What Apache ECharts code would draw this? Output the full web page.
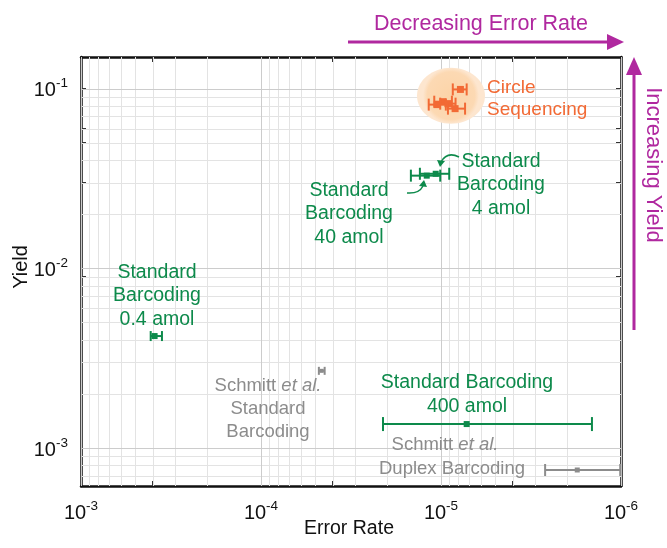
<!DOCTYPE html>
<html>
<head>
<meta charset="utf-8">
<script src="https://cdn.jsdelivr.net/npm/echarts@6/dist/echarts.min.js"></script>
<style>
  html, body { margin: 0; padding: 0; background: #fff; }
  #chart { width: 667px; height: 548px; }
</style>
</head>
<body>
<div id="chart"></div>
<script>
// data: [error rate, yield, error rate (low), error rate (high)]
var circleSequencing = [
  [7.8e-6, 0.099, 7.2e-6, 8.6e-6],
  [1.05e-5, 0.0815, 9.4e-6, 1.17e-5],
  [9.75e-6, 0.0846, 8.7e-6, 1.09e-5],
  [9.15e-6, 0.0825, 8.3e-6, 1.01e-5],
  [8.35e-6, 0.0774, 7.35e-6, 9.15e-6]
];
var barcoding04 = [[3.9e-4, 4.2e-3, 3.55e-4, 4.1e-4]];
var barcoding4 = [[1.07e-5, 0.0336, 9.0e-6, 1.31e-5]];
var barcoding40 = [[1.2e-5, 0.0328, 1.01e-5, 1.47e-5]];
var barcoding400 = [[7.2e-6, 1.36e-3, 1.45e-6, 2.1e-5]];
var schmittStandard = [[4.6e-5, 2.69e-3, 4.43e-5, 4.77e-5]];
var schmittDuplex = [[1.75e-6, 7.55e-4, 1.01e-6, 2.64e-6]];
var circleHighlight = [[8.8e-6, 0.0914]];

var xTicks = [1e-3, 1e-4, 1e-5, 1e-6];
var yTicks = [1e-3, 1e-2, 1e-1];
var xMin = 1e-6, xMax = 1e-3, yMin = 6.15e-4, yMax = 0.15;

// minor tick positions (2..9 x decade)
var xMinor = [], yMinor = [];
[-6, -5, -4].forEach(function (e) {
  for (var k = 2; k <= 9; k++) xMinor.push(k * Math.pow(10, e));
});
[-4, -3, -2, -1].forEach(function (e) {
  for (var k = 2; k <= 9; k++) {
    var v = k * Math.pow(10, e);
    if (v > yMin && v < yMax) yMinor.push(v);
  }
});

var FONT = '"Liberation Sans", Arial, Helvetica, sans-serif';
var GREEN = '#0d8a4b', ORANGE = '#f26a35', GRAY = '#8c8c8c', PURPLE = '#b0289f';

var myChart = echarts.init(document.getElementById('chart'));

var gridSpecs = [];
xMinor.forEach(function (v) { gridSpecs.push({ axis: 'x', v: v, major: false }); });
yMinor.forEach(function (v) { gridSpecs.push({ axis: 'y', v: v, major: false }); });
xTicks.forEach(function (v) { gridSpecs.push({ axis: 'x', v: v, major: true }); });
yTicks.forEach(function (v) { gridSpecs.push({ axis: 'y', v: v, major: true }); });

function errorBars(name, data, color, cap, size, lw) {
  return {
    type: 'custom',
    name: name,
    data: data,
    z: 5,
    encode: { x: 0, y: 1 },
    renderItem: function (params, api) {
      var y = api.value(1);
      var p = api.coord([api.value(0), y]);
      var a = api.coord([api.value(2), y]);
      var b = api.coord([api.value(3), y]);
      var st = { stroke: color, lineWidth: lw };
      return {
        type: 'group',
        children: [
          { type: 'line', shape: { x1: a[0], y1: p[1], x2: b[0], y2: p[1] }, style: st },
          { type: 'line', shape: { x1: a[0], y1: p[1] - cap, x2: a[0], y2: p[1] + cap }, style: st },
          { type: 'line', shape: { x1: b[0], y1: p[1] - cap, x2: b[0], y2: p[1] + cap }, style: st },
          { type: 'rect', shape: { x: p[0] - size / 2, y: p[1] - size / 2, width: size, height: size }, style: { fill: color } }
        ]
      };
    }
  };
}

function supLabel(v) {
  return '{b|10}{s|' + Math.round(Math.log10(v)) + '}';
}
var labelRich = {
  b: { fontSize: 20, fontFamily: FONT, color: '#111', lineHeight: 24, verticalAlign: 'bottom' },
  s: { fontSize: 13.5, fontFamily: FONT, color: '#111', lineHeight: 24, verticalAlign: 'top', padding: [0, 0, 10, 0] }
};

function xAxisCfg(pos) {
  return {
    type: 'log', logBase: 10, min: xMin, max: xMax, inverse: true, position: pos,
    axisLine: { show: true, onZero: false, lineStyle: { color: '#111', width: 2.5 } },
    axisTick: { show: true, inside: true, length: 5, customValues: xTicks.concat(xMinor), lineStyle: { color: '#333' } },
    axisLabel: { show: pos === 'bottom', customValues: xTicks, margin: 13, formatter: supLabel, rich: labelRich },
    splitLine: { show: false }, minorTick: { show: false }
  };
}
function yAxisCfg(pos) {
  return {
    type: 'log', logBase: 10, min: yMin, max: yMax, position: pos,
    axisLine: { show: true, onZero: false, lineStyle: { color: '#111', width: 2.5 } },
    axisTick: { show: true, inside: true, length: 5, customValues: yTicks.concat(yMinor), lineStyle: { color: '#333' } },
    axisLabel: { show: pos === 'left', customValues: yTicks, margin: 13, formatter: supLabel, rich: labelRich },
    splitLine: { show: false }, minorTick: { show: false }
  };
}

// annotations and arrows, drawn above the grid lines
var annotations = [
  // axis names
  { type: 'text', x: 349, y: 529, style: { text: 'Error Rate', font: '19.5px ' + FONT, fill: '#111', align: 'center', verticalAlign: 'middle' } },
  { type: 'text', x: 21, y: 267, rotation: Math.PI / 2, style: { text: 'Yield', font: '20px ' + FONT, fill: '#111', align: 'center', verticalAlign: 'middle' } },
  // direction arrows
  { type: 'text', x: 481, y: 24, style: { text: 'Decreasing Error Rate', font: '21.5px ' + FONT, fill: PURPLE, align: 'center', verticalAlign: 'middle' } },
  { type: 'line', shape: { x1: 348, y1: 42, x2: 610, y2: 42 }, style: { stroke: PURPLE, lineWidth: 3 } },
  { type: 'polygon', shape: { points: [[607, 34], [624, 42], [607, 50]] }, style: { fill: PURPLE } },
  { type: 'line', shape: { x1: 634, y1: 330, x2: 634, y2: 72 }, style: { stroke: PURPLE, lineWidth: 3 } },
  { type: 'polygon', shape: { points: [[626, 75], [634, 57], [642, 75]] }, style: { fill: PURPLE } },
  { type: 'text', x: 653, y: 165, rotation: -Math.PI / 2, style: { text: 'Increasing Yield', font: '22px ' + FONT, fill: PURPLE, align: 'center', verticalAlign: 'middle' } },
  // labels
  { type: 'text', x: 487, y: 99, style: { text: 'Circle\nSequencing', font: '19px ' + FONT, fill: ORANGE, align: 'left', verticalAlign: 'middle', lineHeight: 22 } },
  { type: 'text', x: 501, y: 185, style: { text: 'Standard\nBarcoding\n4 amol', font: '19.5px ' + FONT, fill: GREEN, align: 'center', verticalAlign: 'middle', lineHeight: 23.5 } },
  { type: 'text', x: 349, y: 214, style: { text: 'Standard\nBarcoding\n40 amol', font: '19.5px ' + FONT, fill: GREEN, align: 'center', verticalAlign: 'middle', lineHeight: 23.5 } },
  { type: 'text', x: 157, y: 296, style: { text: 'Standard\nBarcoding\n0.4 amol', font: '19.5px ' + FONT, fill: GREEN, align: 'center', verticalAlign: 'middle', lineHeight: 23.5 } },
  { type: 'text', x: 467, y: 395, style: { text: 'Standard Barcoding\n400 amol', font: '19.5px ' + FONT, fill: GREEN, align: 'center', verticalAlign: 'middle', lineHeight: 24 } },
  {
    type: 'text', x: 268, y: 409,
    style: {
      text: '{n|Schmitt }{i|et al.}\n{n|Standard}\n{n|Barcoding}', align: 'center', verticalAlign: 'middle',
      rich: {
        n: { font: '18.5px ' + FONT, fill: GRAY, lineHeight: 23 },
        i: { font: 'italic 18.5px ' + FONT, fill: GRAY, lineHeight: 23 }
      }
    }
  },
  {
    type: 'text', x: 445, y: 445,
    style: {
      text: '{n|Schmitt }{i|et al.}', align: 'center', verticalAlign: 'middle',
      rich: {
        n: { font: '18.5px ' + FONT, fill: GRAY },
        i: { font: 'italic 18.5px ' + FONT, fill: GRAY }
      }
    }
  },
  { type: 'text', x: 452, y: 469, style: { text: 'Duplex Barcoding', font: '18.5px ' + FONT, fill: GRAY, align: 'center', verticalAlign: 'middle' } },
  // pointer arrows for 4 and 40 amol
  { type: 'bezierCurve', shape: { x1: 459, y1: 157, cpx1: 447, cpy1: 151, x2: 441, y2: 162 }, style: { stroke: GREEN, lineWidth: 1.5, fill: null } },
  { type: 'polygon', shape: { points: [[437, 160], [445, 161], [440, 167]] }, style: { fill: GREEN } },
  { type: 'bezierCurve', shape: { x1: 407, y1: 193, cpx1: 419, cpy1: 194, x2: 423, y2: 186 }, style: { stroke: GREEN, lineWidth: 1.5, fill: null } },
  { type: 'polygon', shape: { points: [[419, 186], [427, 187], [424, 180]] }, style: { fill: GREEN } }
];
annotations.forEach(function (g) { g.z = 100; });

var option = {
  animation: false,
  grid: { left: 81, right: 46, top: 57, bottom: 62 },
  xAxis: [xAxisCfg('bottom'), xAxisCfg('top')],
  yAxis: [yAxisCfg('left'), yAxisCfg('right')],
  series: [
    {
      type: 'custom', name: 'grid', silent: true, z: 1,
      data: gridSpecs.map(function (g) { return g.axis === 'x' ? [g.v, 0.01] : [1e-5, g.v]; }),
      renderItem: function (params, api) {
        var g = gridSpecs[params.dataIndex];
        var cs = params.coordSys;
        var col = g.major ? '#cccccc' : '#e3e3e3';
        if (g.axis === 'x') {
          var x = Math.round(api.coord([g.v, 0.01])[0]) + 0.5;
          return { type: 'line', shape: { x1: x, y1: cs.y, x2: x, y2: cs.y + cs.height }, style: { stroke: col, lineWidth: 1 } };
        }
        var y = Math.round(api.coord([1e-5, g.v])[1]) + 0.5;
        return { type: 'line', shape: { x1: cs.x, y1: y, x2: cs.x + cs.width, y2: y }, style: { stroke: col, lineWidth: 1 } };
      }
    },
    {
      type: 'custom', name: 'highlight', silent: true, z: 2,
      data: circleHighlight,
      renderItem: function (params, api) {
        var p = api.coord([api.value(0), api.value(1)]);
        return {
          type: 'ellipse',
          shape: { cx: p[0], cy: p[1], rx: 34, ry: 28 },
          style: {
            fill: {
              type: 'radial', x: 0.5, y: 0.5, r: 0.5,
              colorStops: [{ offset: 0, color: '#fcd4a8' }, { offset: 0.85, color: '#fcd9b3' }, { offset: 1, color: '#fde6cf' }]
            }
          }
        };
      }
    },
    errorBars('Circle Sequencing', circleSequencing, ORANGE, 6, 7, 2),
    errorBars('Standard Barcoding 0.4 amol', barcoding04, GREEN, 5, 6, 2),
    errorBars('Standard Barcoding 4 amol', barcoding4, GREEN, 6, 6, 2),
    errorBars('Standard Barcoding 40 amol', barcoding40, GREEN, 6, 6, 2),
    errorBars('Standard Barcoding 400 amol', barcoding400, GREEN, 7, 6, 2),
    errorBars('Schmitt Standard Barcoding', schmittStandard, GRAY, 4, 4, 2),
    errorBars('Schmitt Duplex Barcoding', schmittDuplex, GRAY, 6, 5, 2)
  ],
  graphic: annotations
};

myChart.setOption(option);
</script>
</body>
</html>
